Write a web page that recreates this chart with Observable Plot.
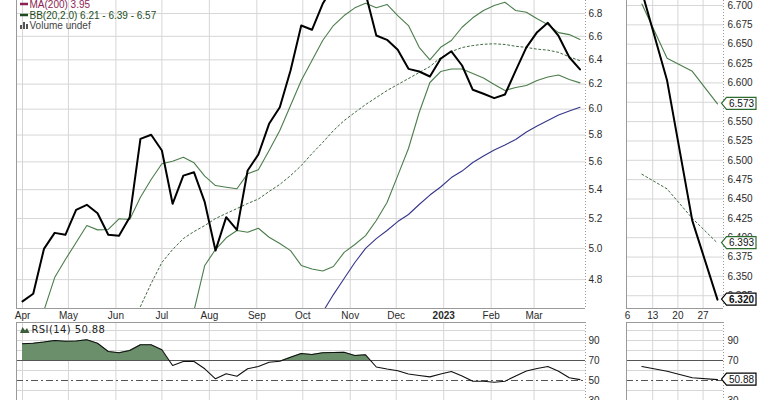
<!DOCTYPE html>
<html><head><meta charset="utf-8">
<script src="https://cdn.jsdelivr.net/npm/d3@7"></script>
<script src="https://cdn.jsdelivr.net/npm/@observablehq/plot@0.6"></script>
<style>
body{margin:0;background:#fff;}
#root{position:relative;width:770px;height:400px;overflow:hidden;background:#fff;}
#root svg{position:absolute;}
</style></head><body><div id="root"></div>
<script>
// ---------- DATA (weekly closes, Fridays from 2022-04-01 to 2023-03-31) ----------
const firstWeek = "2022-04-01";
const closes = [4.665,4.712,4.997,5.103,5.090,5.259,5.294,5.236,5.090,5.083,
  5.209,5.771,5.802,5.684,5.301,5.500,5.524,5.312,4.986,5.209,
  5.123,5.537,5.654,5.886,6.015,6.311,6.694,6.657,6.887,7.05,
  7.05,7.10,6.98,6.607,6.570,6.485,6.325,6.303,6.262,6.409,
  6.472,6.353,6.154,6.122,6.087,6.116,6.311,6.506,6.636,6.718,
  6.603,6.422,6.320];
const bbUpper = [null,null,4.610,4.813,4.928,5.039,5.152,5.123,5.126,5.198,
  5.193,5.347,5.472,5.586,5.605,5.634,5.593,5.496,5.429,5.417,
  5.406,5.513,5.542,5.684,5.834,6.029,6.229,6.394,6.564,6.694,
  6.782,6.851,6.892,6.851,6.881,6.782,6.694,6.506,6.400,6.506,
  6.564,6.679,6.762,6.827,6.872,6.901,6.827,6.812,6.753,6.702,
  6.632,6.615,6.573];
const bbMiddle = [null,null,null,null,null,null,null,null,null,null,
  null,4.634,4.776,4.909,4.993,5.065,5.112,5.152,5.200,5.234,
  5.268,5.303,5.334,5.387,5.437,5.500,5.573,5.661,5.744,5.834,
  5.911,5.974,6.036,6.092,6.148,6.197,6.245,6.295,6.344,6.419,
  6.470,6.504,6.521,6.532,6.536,6.530,6.515,6.505,6.490,6.482,
  6.463,6.425,6.393];
const bbLower = [null,null,null,null,null,null,null,null,null,null,
  null,null,null,null,null,null,4.610,4.890,4.993,5.070,
  5.119,5.107,5.134,5.074,5.032,4.986,4.890,4.867,4.855,4.883,
  4.974,5.026,5.085,5.186,5.310,5.500,5.699,5.974,6.213,6.303,
  6.324,6.324,6.286,6.250,6.197,6.148,6.172,6.188,6.229,6.258,
  6.274,6.237,6.210];
const maLine = [null,null,null,null,null,null,null,null,null,null,
  null,null,null,null,null,null,null,null,null,null,
  null,null,null,null,null,null,null,null,4.600,4.707,
  4.807,4.909,5.000,5.065,5.119,5.179,5.227,5.296,5.362,5.419,
  5.486,5.533,5.595,5.643,5.688,5.725,5.766,5.823,5.869,5.911,
  5.954,5.985,6.015];
const rsi = [86.7,87.3,88.5,90,89.3,89.5,90.7,87.3,79,77.7,
  80,85.7,85.7,80.7,65,69,69,61.7,51.7,56.7,
  54.3,61.7,64,68.3,69.3,73.3,77,76,77.7,78,
  78.3,75,75.7,63.5,61.5,59.8,56.5,55,53.6,56.5,
  59,54.5,49.3,49.3,48.3,49.3,54.5,59.5,62,64,
  59.3,52.7,50.88];

const monthTickDates = ["2022-04-01","2022-05-01","2022-06-01","2022-07-01","2022-08-01","2022-09-01",
  "2022-10-01","2022-11-01","2022-12-01","2023-01-01","2023-02-01","2023-03-01"];
const monthLabels = ["Apr","May","Jun","Jul","Aug","Sep","Oct","Nov","Dec","2023","Feb","Mar"];
const priceTicks = [4.8,5.0,5.2,5.4,5.6,5.8,6.0,6.2,6.4,6.6,6.8];
const zoomPriceTicks = [6.325,6.350,6.375,6.400,6.425,6.450,6.475,6.500,6.525,6.550,6.575,6.600,6.625,6.650,6.675,6.700];
const zoomDayDates = ["2023-03-06","2023-03-13","2023-03-20","2023-03-27"];
const zoomDayLabels = ["6","13","20","27"];
const rsiTicks = [90,70,50,30];
const rsiGrid = [40,60,80,90,100];
const legendMA = "MA(200) 3.95";
const legendBB = "BB(20,2.0) 6.21 - 6.39 - 6.57";
const legendVol = "Volume undef";
const legendRSI = "RSI(14) 50.88";

// ---------- BUILD ----------
const DAY = 864e5;
const d0 = new Date(firstWeek + "T00:00:00Z");
const dates = closes.map((_, i) => d3.utcDay.offset(d0, 7 * i));
const rows = dates.map((date, i) => ({date, close: closes[i], upper: bbUpper[i], mid: bbMiddle[i],
  lower: bbLower[i], ma: maLine[i], rsi: rsi[i]}));
const monthTicks = monthTickDates.map(s => new Date(s + "T00:00:00Z"));
const zoomTicks = zoomDayDates.map(s => new Date(s + "T00:00:00Z"));
const last = dates.length - 1;
const zoomRows = rows.slice(last - 3);

const xMainDomain = [new Date(+dates[0] - 3.92 * DAY), new Date(+dates[last] + 3.59 * DAY)];
const yMainDomain = [4.622, 6.917];
const xZoomDomain = [new Date(+zoomTicks[0] - 0.28 * DAY), new Date(+zoomTicks[0] + 26.67 * DAY)];
const yZoomDomain = [6.3085, 6.7065];
const rsiDomain = [30, 108];

const style = {fontFamily: "'Liberation Sans', Arial, sans-serif", fontSize: "10px", color: "#2a2a2a", background: "transparent", overflow: "visible"};
const gridColor = "#d6d6d6";
const borderColor = "#9a9a9a";
const green = "#4b7d4b";
const midGreen = "#3f6a3f";

const root = document.getElementById("root");
function place(svg, left, top) { svg.style.left = left + "px"; svg.style.top = top + "px"; root.appendChild(svg); return svg; }

const monthFmt = d => monthLabels[monthTicks.findIndex(t => +t === +d)];
const dayFmt = d => zoomDayLabels[zoomTicks.findIndex(t => +t === +d)];

// Main price panel
const main = Plot.plot({
  width: 626, height: 322, marginLeft: 16, marginRight: 41, marginTop: 0, marginBottom: 14,
  style,
  x: {type: "utc", domain: xMainDomain, label: null},
  y: {type: "log", domain: yMainDomain, label: null},
  marks: [
    Plot.gridY(priceTicks, {stroke: gridColor, strokeOpacity: 1}),
    Plot.gridX(monthTicks, {stroke: gridColor, strokeOpacity: 1}),
    Plot.ruleX([xMainDomain[0]], {stroke: borderColor}),
    Plot.ruleY([yMainDomain[0]], {stroke: borderColor}),
    Plot.ruleX([xMainDomain[1]], {stroke: borderColor, strokeDasharray: "1,2"}),
    Plot.line(rows, {x: "date", y: "ma", stroke: "#35358a", strokeWidth: 1.1, clip: true}),
    Plot.line(rows, {x: "date", y: "upper", stroke: green, strokeWidth: 1.1, clip: true}),
    Plot.line(rows, {x: "date", y: "lower", stroke: green, strokeWidth: 1.1, clip: true}),
    Plot.line(rows, {x: "date", y: "mid", stroke: midGreen, strokeWidth: 1, strokeDasharray: "2,2.5", clip: true}),
    Plot.line(rows, {x: "date", y: "close", stroke: "#000", strokeWidth: 2, clip: true}),
    Plot.axisY(priceTicks, {anchor: "right", tickSize: 0, tickPadding: 3, tickFormat: d3.format(".1f")}),
    Plot.axisX(monthTicks, {anchor: "bottom", tickSize: 0, tickPadding: 3, tickFormat: monthFmt})
  ]
});
place(main, 0, 0);
main.querySelectorAll("text").forEach(t => { if (t.textContent === "2023") t.setAttribute("font-weight", "bold"); });

// Zoomed price panel
const zoom = Plot.plot({
  width: 150, height: 322, marginLeft: 6, marginRight: 47, marginTop: 0, marginBottom: 14,
  style,
  x: {type: "utc", domain: xZoomDomain, label: null},
  y: {domain: yZoomDomain, label: null},
  marks: [
    Plot.gridY(zoomPriceTicks, {stroke: gridColor, strokeOpacity: 1}),
    Plot.gridX(zoomTicks.slice(1), {stroke: gridColor, strokeOpacity: 1}),
    Plot.ruleX([xZoomDomain[0]], {stroke: borderColor}),
    Plot.ruleY([yZoomDomain[0]], {stroke: borderColor}),
    Plot.ruleX([xZoomDomain[1]], {stroke: borderColor, strokeDasharray: "1,2"}),
    Plot.line(zoomRows, {x: "date", y: "upper", stroke: green, strokeWidth: 1.1, clip: true}),
    Plot.line(zoomRows, {x: "date", y: "lower", stroke: green, strokeWidth: 1.1, clip: true}),
    Plot.line(zoomRows, {x: "date", y: "mid", stroke: midGreen, strokeWidth: 1, strokeDasharray: "2,2.5", clip: true}),
    Plot.line(zoomRows, {x: "date", y: "close", stroke: "#000", strokeWidth: 2, clip: true}),
    Plot.axisY(zoomPriceTicks, {anchor: "right", tickSize: 0, tickPadding: 4, tickFormat: d3.format(".3f")}),
    Plot.axisX(zoomTicks, {anchor: "bottom", tickSize: 0, tickPadding: 3, tickFormat: dayFmt})
  ]
});
place(zoom, 620, 0);

// RSI panels
function clipAbove(svg, yPix) {
  const ns = "http://www.w3.org/2000/svg";
  const id = "c" + Math.random().toString(36).slice(2);
  const defs = document.createElementNS(ns, "defs");
  const cp = document.createElementNS(ns, "clipPath"); cp.setAttribute("id", id);
  const r = document.createElementNS(ns, "rect");
  r.setAttribute("x", 0); r.setAttribute("y", 0); r.setAttribute("width", 2000); r.setAttribute("height", yPix);
  cp.appendChild(r); defs.appendChild(cp); svg.insertBefore(defs, svg.firstChild);
  const a = svg.querySelector('g[aria-label="area"]');
  if (a) a.setAttribute("clip-path", `url(#${id})`);
}
function rsiPanel(data, width, mL, mR, xDomain, xGrid) {
  const p = Plot.plot({
    width, height: 78, marginLeft: mL, marginRight: mR, marginTop: 0, marginBottom: 0,
    style,
    x: {type: "utc", domain: xDomain, label: null, axis: null},
    y: {domain: rsiDomain, label: null},
    marks: [
      Plot.gridY(rsiGrid, {stroke: gridColor, strokeOpacity: 1}),
      Plot.gridX(xGrid, {stroke: gridColor, strokeOpacity: 1}),
      Plot.areaY(data, {x: "date", y1: 70, y2: "rsi", fill: "#6a8f6a", clip: true}),
      Plot.ruleY([70], {stroke: "#555"}),
      Plot.ruleY([50], {stroke: "#555", strokeDasharray: "7,3,2,3"}),
      Plot.ruleY([rsiDomain[1]], {stroke: borderColor}),
      Plot.ruleX([xDomain[0]], {stroke: borderColor}),
      Plot.ruleX([xDomain[1]], {stroke: borderColor, strokeDasharray: "1,2"}),
      Plot.line(data, {x: "date", y: "rsi", stroke: "#111", strokeWidth: 1.1, clip: true}),
      Plot.axisY(rsiTicks, {anchor: "right", tickSize: 0, tickPadding: mR > 42 ? 4 : 3})
    ]
  });
  clipAbove(p, p.scale("y").apply(70));
  return p;
}
const rsiMain = place(rsiPanel(rows, 626, 16, 41, xMainDomain, monthTicks), 0, 322);
const rsiZoom = place(rsiPanel(zoomRows, 150, 6, 47, xZoomDomain, zoomTicks.slice(1)), 620, 322);

// Overlay: legends and value boxes
const ns = "http://www.w3.org/2000/svg";
const ov = document.createElementNS(ns, "svg");
ov.setAttribute("width", 770); ov.setAttribute("height", 400);
ov.style.left = "0px"; ov.style.top = "0px"; ov.style.pointerEvents = "none";
root.appendChild(ov);
function el(tag, attrs, text) {
  const e = document.createElementNS(ns, tag);
  for (const k in attrs) e.setAttribute(k, attrs[k]);
  if (text != null) e.textContent = text;
  ov.appendChild(e); return e;
}
const legFont = "'Liberation Sans', Arial, sans-serif";
el("line", {x1: 20, x2: 28, y1: 4, y2: 4, stroke: "#8b1f52", "stroke-width": 2.5});
el("text", {x: 29.5, y: 7.5, fill: "#8b1f52", "font-family": legFont, "font-size": 10}, legendMA);
el("line", {x1: 20, x2: 28, y1: 15, y2: 15, stroke: "#1d4d1d", "stroke-width": 2.5});
el("text", {x: 29.5, y: 19, fill: "#1d4d1d", "font-family": legFont, "font-size": 10}, legendBB);
el("rect", {x: 20, y: 25, width: 2, height: 4, fill: "#555"});
el("rect", {x: 23, y: 22, width: 2, height: 7, fill: "#555"});
el("rect", {x: 26, y: 24, width: 2, height: 5, fill: "#555"});
el("text", {x: 29.5, y: 29, fill: "#444", "font-family": legFont, "font-size": 10}, legendVol);
el("polygon", {points: "20,333 22.5,327 25,330.5 27,328 29.5,333", fill: "#3c5c3c"});
el("text", {x: 31.5, y: 333.3, fill: "#222", "font-family": "'DejaVu Sans', sans-serif", "font-size": 10, "letter-spacing": 0.4}, legendRSI);

function valueBox(cy, label, stroke, bold) {
  el("polygon", {points: `721.5,${cy} 726.5,${cy - 6} 756,${cy - 6} 756,${cy + 6} 726.5,${cy + 6}`,
    fill: "#fff", stroke, "stroke-width": 1.2});
  el("text", {x: 729, y: cy + 3.7, fill: "#111", "font-family": legFont, "font-size": 10,
    "font-weight": bold ? "bold" : "normal"}, label);
}
const zy = v => zoom.scale("y").apply(v);
const fmt3 = d3.format(".3f");
valueBox(zy(bbUpper[last]), fmt3(bbUpper[last]), "#2e6b2e", false);
valueBox(zy(bbMiddle[last]), fmt3(bbMiddle[last]), "#2e6b2e", false);
valueBox(zy(closes[last]), fmt3(closes[last]), "#000", true);
valueBox(322 + rsiZoom.scale("y").apply(rsi[last]), d3.format(".2f")(rsi[last]), "#000", false);
</script>
</body></html>
